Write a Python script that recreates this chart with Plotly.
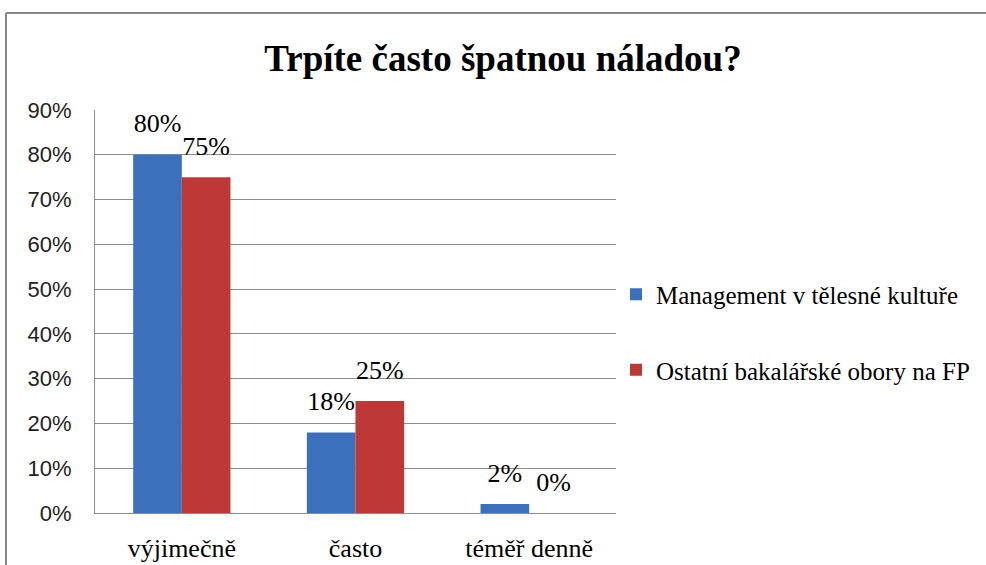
import plotly.graph_objects as go

categories = ["výjimečně", "často", "téměř denně"]
series_names = ["Management v tělesné kultuře", "Ostatní bakalářské obory na FP"]
management = [0.80, 0.18, 0.02]
ostatni = [0.75, 0.25, 0.00]
title_text = "Trpíte často špatnou náladou?"

SERIF = "Liberation Serif"
SANS = "Liberation Sans"
GRID = "#8c8c8c"
COLORS = ["#3A70BC", "#BE3835"]

fig = go.Figure()
for name, vals, col, grp in [(series_names[0], management, COLORS[0], "a"),
                             (series_names[1], ostatni, COLORS[1], "b")]:
    fig.add_trace(go.Bar(
        x=categories, y=vals, name=name, legendgroup=grp, offsetgroup=grp,
        marker=dict(color=col, line=dict(width=0)), hoverinfo="skip",
    ))
for vals, grp in [(management, "a"), (ostatni, "b")]:
    fig.add_trace(go.Scatter(
        x=categories, y=vals, mode="markers+text", offsetgroup=grp,
        marker=dict(size=24, opacity=0), showlegend=False, hoverinfo="skip",
        texttemplate="%{y:.0%}", textposition="top center",
        textfont=dict(family=SERIF, size=26, color="black"), cliponaxis=False,
    ))

L, R, T, B = 95, 616, 110, 513
W, H = 986, 565

def px_x(x):
    return (x - L) / (R - L)

def px_y(y):
    return (B - y) / (B - T)

fig.update_layout(
    width=W, height=H,
    margin=dict(l=L, r=W - R, t=T, b=H - B, pad=0, autoexpand=False),
    paper_bgcolor="white", plot_bgcolor="white",
    barmode="group", bargap=0.44, bargroupgap=0,
    scattermode="group", scattergap=0.44,
    title=dict(text="<b>" + title_text + "</b>", x=503 / W, xanchor="center",
               y=1 - 58 / H, yanchor="middle",
               font=dict(family=SERIF, size=37, color="black")),
    legend=dict(x=1.0, xanchor="left", y=px_y(332), yanchor="middle",
                font=dict(family=SERIF, size=25, color="black"),
                tracegroupgap=40, itemwidth=30, bgcolor="rgba(0,0,0,0)"),
    showlegend=True,
    xaxis=dict(showgrid=False, showline=True, linecolor=GRID, linewidth=1,
               automargin=False,
               ticks="", tickfont=dict(family=SERIF, size=26, color="black"),
               ticklabelstandoff=12),
    yaxis=dict(range=[0, 0.9], dtick=0.1, tickformat=".0%",
               automargin=False,
               showgrid=True, gridcolor=GRID, gridwidth=1,
               showline=True, linecolor=GRID, linewidth=1, mirror=False,
               ticks="", tickfont=dict(family=SANS, size=22, color="#222"),
               ticklabelstandoff=18, zeroline=False),
    shapes=[
        dict(type="line", xref="paper", yref="paper",
             x0=px_x(6), x1=px_x(990), y0=px_y(13), y1=px_y(13),
             line=dict(color="#888888", width=2)),
        dict(type="line", xref="paper", yref="paper",
             x0=px_x(6), x1=px_x(6), y0=px_y(13), y1=px_y(570),
             line=dict(color="#888888", width=2)),
    ],
)

fig.write_html("out.html", config={"displayModeBar": False},
               post_script="document.body.style.margin='0';")
